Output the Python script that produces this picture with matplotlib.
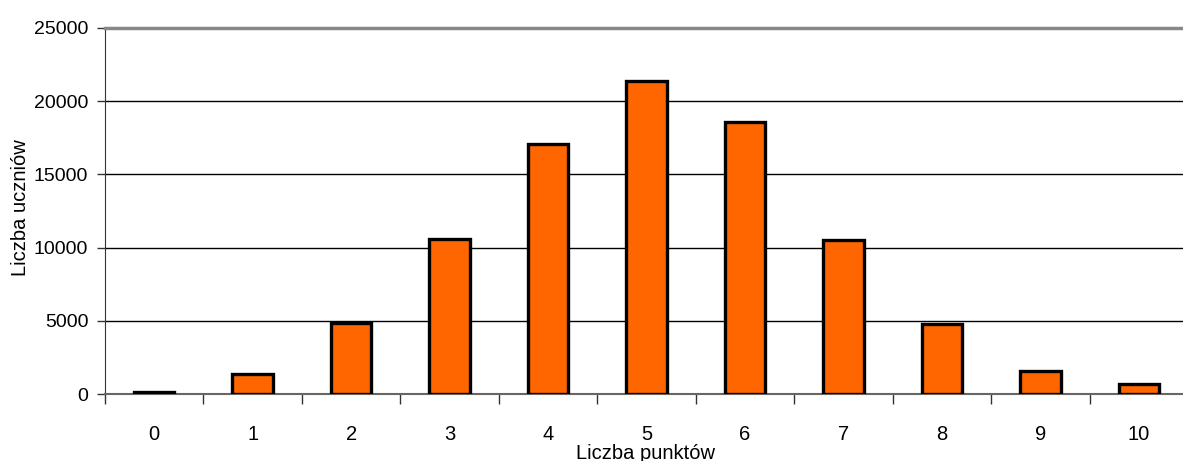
import numpy as np
import matplotlib
matplotlib.use('Agg')
import matplotlib.pyplot as plt

# dane: liczba uczniow wg liczby punktow
punkty = ['0', '1', '2', '3', '4', '5', '6', '7', '8', '9', '10']
uczniowie = [150, 1400, 4850, 10600, 17100, 21350, 18550, 10550, 4750, 1600, 700]
y_ticks = [0, 5000, 10000, 15000, 20000, 25000]

plt.rcParams['font.family'] = ['Liberation Sans', 'DejaVu Sans']

fig = plt.figure(figsize=(11.83, 4.61), dpi=100)
W, H = 1183.0, 461.0
ax = fig.add_axes([105 / W, 1 - 394 / H, 1083 / W, 366 / H])

x = np.arange(len(punkty))
ax.bar(x, uczniowie, width=0.41, color='#ff6600', edgecolor='black', linewidth=2.4, zorder=3)

ax.set_xlim(-0.5, len(punkty) - 0.5)
ax.set_ylim(0, 25000)
ax.set_yticks(y_ticks)
ax.set_yticklabels([str(v) for v in y_ticks], fontsize=14)
ax.yaxis.grid(True, color='black', linewidth=1.0, zorder=0)

# ticks between categories, labels centered
ax.set_xticks(np.arange(-0.5, len(punkty), 1.0))
ax.set_xticklabels([])
ax.set_xticks(x, minor=True)
ax.set_xticklabels(punkty, minor=True, fontsize=14.5)
ax.tick_params(axis='x', which='major', direction='out', length=7, width=1, color='#333333')
ax.tick_params(axis='x', which='minor', length=0, pad=22)
ax.tick_params(axis='y', direction='out', length=6, width=1, color='#333333', pad=6)

ax.spines['right'].set_visible(False)
ax.spines['top'].set_color('#888888')
ax.spines['top'].set_linewidth(2.5)
ax.spines['left'].set_color('#333333')
ax.spines['bottom'].set_color('#666666')
ax.spines['bottom'].set_linewidth(1.5)

fig.text(645 / W, 1 - 444 / H, 'Liczba punktów', ha='center', va='top', fontsize=14.5)
fig.text(20 / W, 1 - 208 / H, 'Liczba uczniów', ha='center', va='center', rotation=90, fontsize=14.5)

fig.savefig('out.png', dpi=100)
